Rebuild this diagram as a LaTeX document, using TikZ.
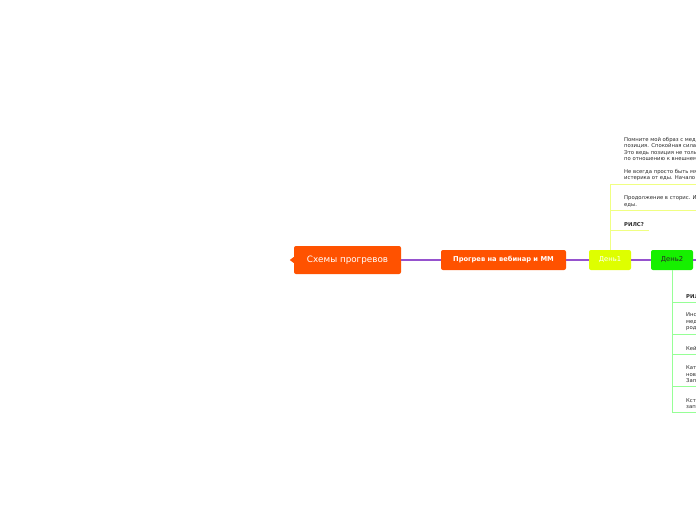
\documentclass[tikz,border=0pt]{standalone}
\usepackage{fontspec}
\setmainfont{DejaVu Sans}
\usetikzlibrary{positioning}
\definecolor{rootorange}{RGB}{255,82,0}
\definecolor{linkpurple}{RGB}{150,82,206}
\definecolor{dayone}{RGB}{222,255,0}
\definecolor{daytwo}{RGB}{22,240,0}
\definecolor{dayoneline}{RGB}{240,255,130}
\definecolor{daytwoline}{RGB}{150,255,150}
\definecolor{leaftext}{RGB}{40,40,40}
\begin{document}
\begin{tikzpicture}[
    x=1pt, y=-1pt,
    topic/.style={
        rectangle,
        rounded corners=2pt,
        align=center,
        inner sep=0pt
    },
    root/.style={topic, fill=rootorange, text=white,
        minimum width=107pt, minimum height=28pt,
        font=\fontsize{8.8}{10}\selectfont},
    branch/.style={topic, fill=rootorange, text=white,
        minimum width=125pt, minimum height=20pt,
        font=\fontsize{6.7}{8}\selectfont\bfseries},
    day/.style={topic, minimum width=42pt, minimum height=20pt,
        font=\fontsize{6.8}{8}\selectfont},
    leaf/.style={
        anchor=south west,
        align=left,
        inner xsep=0pt,
        inner ysep=3pt,
        text=leaftext,
        font=\fontsize{5.3}{6.4}\selectfont
    },
    link/.style={draw=linkpurple, line width=1.1pt},
    oneline/.style={draw=dayoneline, line width=0.9pt},
    twoline/.style={draw=daytwoline, line width=0.9pt}
]
\useasboundingbox (0,0) rectangle (696,520);
\clip (0,0) rectangle (696,520);

% ===== Main row =====
\node[root]   (root)   at (347.5,260) {Схемы прогревов};
\node[branch] (warmup) at (503.5,260) {Прогрев на вебинар и ММ};
\node[day, fill=dayone, text=white]    (day1) at (610,260) {День1};
\node[day, fill=daytwo, text=leaftext] (day2) at (672,260) {День2};
\coordinate (edge) at (700,260);

\fill[rootorange] (root.west) ++(0,-3) -- ++(-4,3) -- ++(4,3) -- cycle;

% ===== Main row links =====
\draw[link] (root.east) -- (warmup.west);
\draw[link] (warmup.east) -- (day1.west);
\draw[link] (day1.east) -- (day2.west);
\draw[link] (day2.east) -- (edge);

% ===== Day 1 leaves =====
\node[leaf] (p1) at (624,184) {Помните мой образ с медведем\\позиция. Спокойная сила и уверенность\\Это ведь позиция не только к еде\\по отношению к внешнему миру\\[6.4pt]Не всегда просто быть мягкой\\истерика от еды. Начало};
\node[leaf] (p2) at (624,210) {Продолжение в сторис. И снова про\\еды.};
\node[leaf] (p3) at (624,230) {\bfseries РИЛС?};

\draw[oneline] (day1.north) -- (day1.north |- p1.south) -- (edge |- p1.south);
\draw[oneline] (day1.north |- p2.south) -- (edge |- p2.south);
\draw[oneline] (day1.north |- p3.south) -- ([xshift=5pt]p3.south east);

% ===== Day 2 leaves =====
\node[leaf] (q1) at (686,302) {\bfseries РИЛС};
\node[leaf] (q2) at (686,334) {Инстаграм\\медведь\\родные};
\node[leaf] (q3) at (686,354) {Кейсы};
\node[leaf] (q4) at (686,386) {Каталог\\новый\\Запись};
\node[leaf] (q5) at (686,412) {Кстати\\запись};

\draw[twoline] (day2.south) -- (day2.south |- q5.south) -- (edge |- q5.south);
\foreach \q in {q1,q2,q3,q4}
    \draw[twoline] (day2.south |- \q.south) -- (edge |- \q.south);

\end{tikzpicture}
\end{document}
